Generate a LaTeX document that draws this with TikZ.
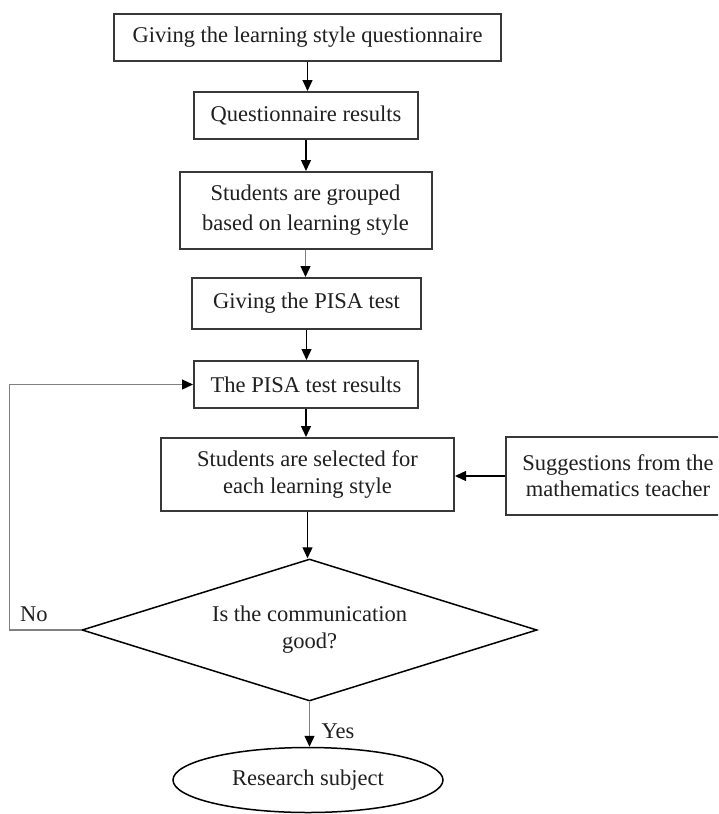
\documentclass[tikz,border=0pt]{standalone}
\usepackage{fontspec}
\setmainfont{Liberation Serif}
\usetikzlibrary{shapes.geometric,arrows.meta}
\newcommand\figfont{\fontsize{22.5}{28}\selectfont}
\definecolor{boxc}{gray}{0.22}
\definecolor{txt}{gray}{0.12}
\definecolor{loopc}{gray}{0.5}
\begin{document}
\begin{tikzpicture}[x=1pt,y=-1pt,
  box/.style={draw=boxc, line width=2pt, fill=white, align=center, inner sep=0pt, font=\figfont, text=txt},
  arr/.style={-{Triangle[length=11pt,width=10pt]}, line width=1.3pt, draw=black},
  garr/.style={-{Triangle[length=11pt,width=10pt,color=black]}, line width=1.3pt, draw=loopc},
  lbl/.style={font=\figfont, text=txt, inner sep=0pt}]
\path[use as bounding box] (0,0) rectangle (718,814);
\clip (0,0) rectangle (718,814);

\node[box, minimum width=387pt, minimum height=47pt] (b1) at (307.5,37.5) {Giving the learning style questionnaire};
\node[box, minimum width=224pt, minimum height=47pt] (b2) at (306,115.5) {Questionnaire results};
\node[box, minimum width=252pt, minimum height=77pt, font={\fontsize{22.5}{30}\selectfont}] (b3) at (305.5,210.5) {Students are grouped\\based on learning style};
\node[box, minimum width=229pt, minimum height=51pt] (b4) at (306.5,303.5) {Giving the PISA test};
\node[box, minimum width=224pt, minimum height=47pt] (b5) at (306,384.5) {The PISA test results};
\node[box, minimum width=293pt, minimum height=73pt] (b6) at (307.5,474.5) {Students are selected for\\each learning style};
\node[box, minimum width=224pt, minimum height=78pt, font={\fontsize{22.5}{26}\selectfont}] (b7) at (618,476) {Suggestions from the\\mathematics teacher};
\node[diamond, aspect=3.2, draw=black, line width=1.5pt, fill=white, minimum width=455pt, minimum height=142pt, inner sep=0pt, align=center, font={\fontsize{22.5}{27}\selectfont}, text=txt] (dia) at (309.5,630) {Is the communication\\good?};
\node[ellipse, draw=black, line width=1.5pt, fill=white, minimum width=270pt, minimum height=65pt, inner sep=0pt, font=\figfont, text=txt] (ell) at (308,780) {Research subject};

\draw[arr] (b1.south) -- (b1.south |- b2.north);
\draw[arr] (b2.south) -- (b2.south |- b3.north);
\draw[garr] (b3.south) -- (b3.south |- b4.north);
\draw[arr] (b4.south) -- (b4.south |- b5.north);
\draw[arr] (b5.south) -- (b5.south |- b6.north);
\draw[arr] (b6.south) -- (b6.south |- dia.north);
\draw[arr] (b7.west) -- (b7.west -| b6.east);
\draw[garr] (dia.south) -- (dia.south |- ell.north);

\coordinate (lp) at (9.5,630);
\draw[garr] (dia.west) -- (lp) |- (b5.west);

\node[lbl, anchor=base west] (no) at (20,621.5) {No};
\node[lbl, anchor=base west] (yes) at (321.5,738) {Yes};
\end{tikzpicture}
\end{document}
